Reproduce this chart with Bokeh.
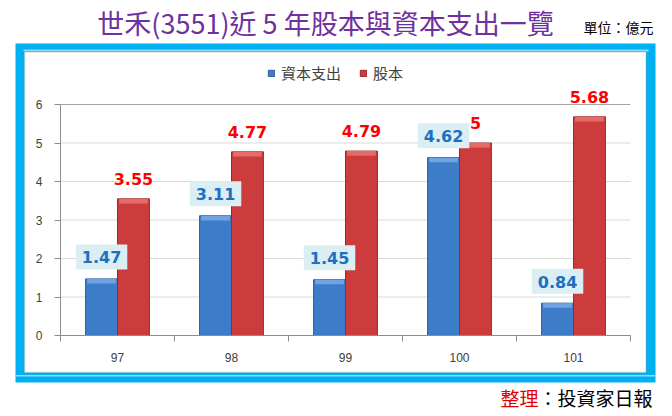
import numpy as np
from bokeh.plotting import figure
from bokeh.models import (ColumnDataSource, FixedTicker, Legend, LegendItem,
                          Label, BoxAnnotation, Range1d)
from bokeh.core.properties import value
from bokeh.embed import file_html
from bokeh.resources import INLINE

# ---- data ----
years = ["97", "98", "99", "100", "101"]
capex = [1.47, 3.11, 1.45, 4.62, 0.84]      # 資本支出
capital = [3.55, 4.77, 4.79, 5.00, 5.68]    # 股本
y_ticks = [0, 1, 2, 3, 4, 5, 6]
series_names = ["資本支出", "股本"]
title_text = "世禾(3551)近 5 年股本與資本支出一覽"
unit_text = "單位：億元"
source_prefix = "整理"
source_rest = "：投資家日報"

# ---- layout (pixels, canvas = frame) ----
W, H = 672, 416
X0PX, XNPX, Y0PX, YTPX = 60, 630, 335, 104  # axes area

n = len(years)
xs = (XNPX - X0PX) / n
ymax = y_ticks[-1]
ys = (Y0PX - YTPX) / ymax
x_range = Range1d(-X0PX / xs, n + (W - XNPX) / xs)
y_range = Range1d(-(H - Y0PX) / ys, ymax + YTPX / ys)

idx = np.arange(n)
centers = idx + 0.5
bw = 0.28

src = ColumnDataSource(dict(
    xb=centers - bw / 2,
    xr=centers + bw / 2,
    capex=capex,
    capital=capital,
    capex_cap=np.array(capex) - 0.12,
    capital_cap=np.array(capital) - 0.12,
    capex_lbl=[f"{v:g}" for v in capex],
    capital_lbl=[f"{v:g}" for v in capital],
))
grid_src = ColumnDataSource(dict(
    y=y_ticks[1:],
    color=["#d9d9d9"] * (len(y_ticks) - 2) + ["#a6a6a6"],
))

p = figure(width=W, height=H, x_range=x_range, y_range=y_range,
           output_backend="svg", toolbar_location=None,
           min_border_left=0, min_border_right=0,
           min_border_top=0, min_border_bottom=0)
p.background_fill_color = "white"
p.border_fill_color = "white"
p.outline_line_color = None


def cbox(l, r, t, b, **kw):
    return BoxAnnotation(left=l, right=r, top=t, bottom=b,
                         left_units="canvas", right_units="canvas",
                         top_units="canvas", bottom_units="canvas",
                         level="image", **kw)


# blue frame
p.add_layout(cbox(15, 655, 43, 382, fill_color="#00b0f0", fill_alpha=1, line_color=None))
p.add_layout(cbox(23, 648, 49, 51, fill_color="#8fdcf8", fill_alpha=1, line_color=None))
p.add_layout(cbox(15, 655, 374.5, 376, fill_color="#8fdcf8", fill_alpha=1, line_color=None))
p.add_layout(cbox(24, 645.5, 51.5, 372, fill_color="white", fill_alpha=1,
                  line_color="#a0a0a0", line_width=1.5))

# horizontal gridlines limited to the plot area
p.xgrid.visible = False
p.ygrid.visible = False
p.segment(x0=0, x1=n, y0="y", y1="y", source=grid_src, line_color="color",
          line_width=1, level="underlay")

# axes
p.yaxis.fixed_location = 0
p.yaxis.bounds = (0, ymax)
p.yaxis.ticker = FixedTicker(ticks=y_ticks)
p.yaxis.axis_line_color = "#8c8c8c"
p.yaxis.major_tick_line_color = "#8c8c8c"
p.yaxis.major_tick_out = 6
p.yaxis.major_tick_in = 0
p.yaxis.minor_tick_line_color = None
p.yaxis.major_label_standoff = 12
p.yaxis.major_label_text_font = "Liberation Sans"
p.yaxis.major_label_text_font_size = "12px"
p.yaxis.major_label_text_color = "#404040"

p.xaxis.fixed_location = 0
p.xaxis.bounds = (0, n)
p.xaxis.ticker = FixedTicker(ticks=list(centers), minor_ticks=list(range(n + 1)))
p.xaxis.major_label_overrides = {float(c): y for c, y in zip(centers, years)}
p.xaxis.axis_line_color = "#8c8c8c"
p.xaxis.major_tick_out = 0
p.xaxis.major_tick_in = 0
p.xaxis.minor_tick_out = 6
p.xaxis.minor_tick_in = 0
p.xaxis.minor_tick_line_color = "#8c8c8c"
p.xaxis.major_label_standoff = 11
p.xaxis.major_label_text_font = "Liberation Sans"
p.xaxis.major_label_text_font_size = "12px"
p.xaxis.major_label_text_color = "#404040"

# bars
rb = p.vbar(x="xb", top="capex", bottom=0, width=bw, source=src,
            fill_color="#3d7cc9", line_color="#2c5d9b", line_width=1)
rr = p.vbar(x="xr", top="capital", bottom=0, width=bw, source=src,
            fill_color="#cc3c3c", line_color="#9a2a2a", line_width=1)
p.vbar(x="xb", top="capex", bottom="capex_cap", width=bw * 0.9, source=src,
       fill_color="#6fa3e3", line_color=None)
p.vbar(x="xr", top="capital", bottom="capital_cap", width=bw * 0.9, source=src,
       fill_color="#e56a6a", line_color=None)

# data labels
p.text(x="xr", y="capital", text="capital_lbl", source=src, y_offset=-20,
       text_align="center", text_baseline="middle", text_color="#ff0000",
       text_font=value("DejaVu Sans"), text_font_style="bold", text_font_size="16px")
p.text(x="xb", y="capex", text="capex_lbl", source=src, y_offset=-22,
       text_align="center", text_baseline="middle", text_color="#1f6fc0",
       text_font=value("DejaVu Sans"), text_font_style="bold", text_font_size="16px",
       background_fill_color="#daeef3",
       padding=dict(left=6, right=6, top=7, bottom=6))

# legend
legend = Legend(items=[LegendItem(label=series_names[0], renderers=[rb]),
                       LegendItem(label=series_names[1], renderers=[rr])],
                orientation="horizontal", location=(267, H - 83),
                glyph_width=8, glyph_height=8, label_height=16,
                label_standoff=6, spacing=18, padding=0, margin=0,
                border_line_color=None, background_fill_alpha=0,
                label_text_font="Noto Sans CJK TC", label_text_font_size="15px",
                label_text_color="#404040")
p.add_layout(legend, "center")

# texts
p.add_layout(Label(x=325, y=22, x_units="canvas", y_units="canvas", text=title_text,
                   text_align="center", text_baseline="middle",
                   text_font="Noto Sans CJK TC", text_font_size="27px",
                   text_color="#7030a0"))
p.add_layout(Label(x=583, y=26, x_units="canvas", y_units="canvas", text=unit_text,
                   text_align="left", text_baseline="middle",
                   text_font="Noto Sans CJK TC", text_font_size="14px",
                   text_color="#000000"))
p.add_layout(Label(x=652, y=397, x_units="canvas", y_units="canvas", text=source_rest,
                   text_align="right", text_baseline="middle",
                   text_font="Noto Sans CJK TC", text_font_size="19px",
                   text_color="#000000"))
p.add_layout(Label(x=538, y=397, x_units="canvas", y_units="canvas", text=source_prefix,
                   text_align="right", text_baseline="middle",
                   text_font="Noto Sans CJK TC", text_font_size="19px",
                   text_color="#e00000"))

open("out.html", "w").write(file_html(p, INLINE))
